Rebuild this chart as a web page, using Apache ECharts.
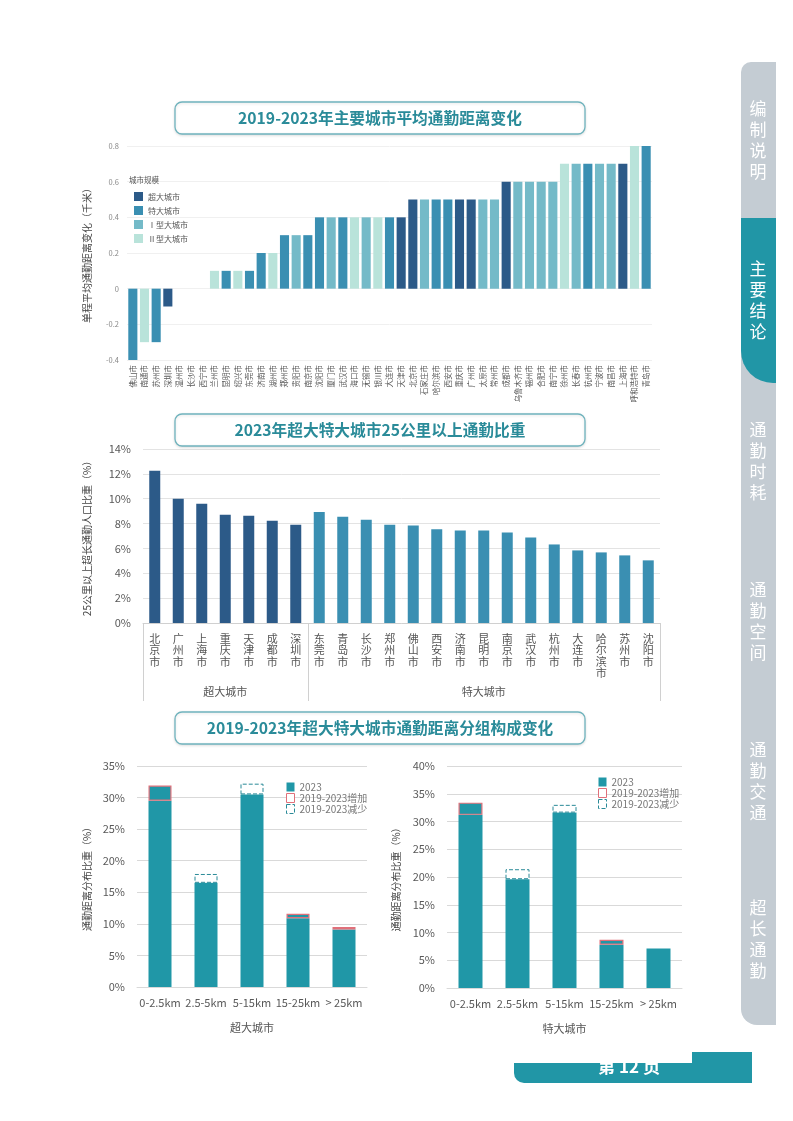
<!DOCTYPE html>
<html><head><meta charset="utf-8">
<script src="https://cdn.jsdelivr.net/npm/echarts@6/dist/echarts.min.js"></script>
<style>html,body{margin:0;padding:0;background:#fff;}#c{width:793px;height:1121px;}</style>
</head><body><div id="c"></div>
<script>
const FONT = '"Noto Sans CJK SC","Noto Sans",sans-serif';

// ---- Chart 1: change of average commute distance (km) ----
const topCities = ['佛山市','南通市','苏州市','深圳市','温州市','长沙市','西宁市','兰州市','昆明市','绍兴市','东莞市','济南市','湖州市','郑州市','贵阳市','南京市','沈阳市','厦门市','武汉市','海口市','无锡市','银川市','大连市','天津市','北京市','石家庄市','哈尔滨市','西安市','重庆市','广州市','太原市','常州市','成都市','乌鲁木齐市','福州市','合肥市','南宁市','徐州市','长春市','杭州市','宁波市','南昌市','上海市','呼和浩特市','青岛市'];
const topValues = [-0.4,-0.3,-0.3,-0.1,0,0,0,0.1,0.1,0.1,0.1,0.2,0.2,0.3,0.3,0.3,0.4,0.4,0.4,0.4,0.4,0.4,0.4,0.4,0.5,0.5,0.5,0.5,0.5,0.5,0.5,0.5,0.6,0.6,0.6,0.6,0.6,0.7,0.7,0.7,0.7,0.7,0.7,0.8,0.8];
const topScales = ['特大城市','Ⅱ型大城市','特大城市','超大城市','Ⅰ型大城市','特大城市','Ⅱ型大城市','Ⅱ型大城市','特大城市','Ⅱ型大城市','特大城市','特大城市','Ⅱ型大城市','特大城市','Ⅰ型大城市','特大城市','特大城市','Ⅰ型大城市','特大城市','Ⅱ型大城市','Ⅰ型大城市','Ⅱ型大城市','特大城市','超大城市','超大城市','Ⅰ型大城市','特大城市','特大城市','超大城市','超大城市','Ⅰ型大城市','Ⅰ型大城市','超大城市','Ⅰ型大城市','Ⅰ型大城市','Ⅰ型大城市','Ⅰ型大城市','Ⅱ型大城市','Ⅰ型大城市','特大城市','Ⅰ型大城市','Ⅰ型大城市','超大城市','Ⅱ型大城市','特大城市'];
const scaleNames = ['超大城市','特大城市','Ⅰ型大城市','Ⅱ型大城市'];
const scaleColors = ['#2c5a88','#3a8fb2','#74bac8','#b9e3da'];
const topTicks = [-0.4,-0.2,0,0.2,0.4,0.6,0.8];

// ---- Chart 2: share of >25km commuters (%) ----
const longCities = ['北京市','广州市','上海市','重庆市','天津市','成都市','深圳市','东莞市','青岛市','长沙市','郑州市','佛山市','西安市','济南市','昆明市','南京市','武汉市','杭州市','大连市','哈尔滨市','苏州市','沈阳市'];
const longValues = [12.25,10.0,9.6,8.7,8.63,8.23,7.9,8.93,8.55,8.31,7.9,7.84,7.55,7.45,7.45,7.28,6.88,6.32,5.84,5.68,5.44,5.04];
const longGroups = ['超大城市','超大城市','超大城市','超大城市','超大城市','超大城市','超大城市','特大城市','特大城市','特大城市','特大城市','特大城市','特大城市','特大城市','特大城市','特大城市','特大城市','特大城市','特大城市','特大城市','特大城市','特大城市'];
const groupColors = {'超大城市':'#2c5a88','特大城市':'#3a8fb2'};

// ---- Chart 3: commute distance composition (%) ----
const distBands = ['0-2.5km','2.5-5km','5-15km','15-25km','> 25km'];
const superShare2019 = [29.5,17.9,32.2,10.9,9.1];
const superShare2023 = [31.9,16.5,30.5,11.6,9.5];
const megaShare2019 = [31.2,21.4,33.0,7.8,7.1];
const megaShare2023 = [33.4,19.6,31.6,8.7,7.1];

const TEAL = '#2097a7';
const RED = '#e0707a';
const DASH = '#2a8a98';

function compSeries(idx, s2019, s2023) {
  const base = s2023.map((v,i)=>Math.min(v, s2019[i]));
  const inc = s2023.map((v,i)=> v > s2019[i] ? +(v - s2019[i]).toFixed(2) : '-');
  const dec = s2023.map((v,i)=> s2019[i] > v ? +(s2019[i] - v).toFixed(2) : '-');
  const w = idx === 2 ? 23 : 24;
  return [
    {name:'2023', type:'bar', xAxisIndex:idx, yAxisIndex:idx, stack:'c'+idx, barWidth:w, data:base, itemStyle:{color:TEAL}},
    {name:'2019-2023增加', type:'bar', xAxisIndex:idx, yAxisIndex:idx, stack:'c'+idx, barWidth:w, data:inc, itemStyle:{color:TEAL, borderColor:RED, borderWidth:1.2}},
    {name:'2019-2023减少', type:'bar', xAxisIndex:idx, yAxisIndex:idx, stack:'c'+idx, barWidth:w, data:dec, itemStyle:{color:'#ffffff', borderColor:DASH, borderWidth:1, borderType:'dashed'}}
  ];
}

const axisLblGray = {fontFamily:FONT, color:'#595959', fontSize:11};
const nameStyle = {fontFamily:FONT, color:'#444', fontSize:10};

const option = {
  animation:false,
  textStyle:{fontFamily:FONT},
  grid:[
    {left:127, top:146, width:525, height:214, containLabel:false},
    {left:143, top:449, width:517, height:174, containLabel:false},
    {left:137, top:766, width:230, height:221, containLabel:false},
    {left:447, top:766, width:235, height:222, containLabel:false}
  ],
  xAxis:[
    {gridIndex:0, type:'category', data:topCities, axisLine:{show:false}, axisTick:{show:false},
     axisLabel:{rotate:90, interval:0, fontSize:7.5, color:'#5a5a5a', margin:5, fontFamily:FONT}},
    {gridIndex:1, type:'category', data:longCities, axisLine:{lineStyle:{color:'#d0d0d0'}}, axisTick:{show:false},
     axisLabel:{interval:0, fontSize:11, lineHeight:11.5, color:'#555', margin:10, fontFamily:FONT, formatter:s=>s.split('').join('\n')}},
    {gridIndex:2, type:'category', data:distBands, axisLine:{lineStyle:{color:'#d9d9d9'}}, axisTick:{show:false},
     axisLabel:Object.assign({interval:0, margin:10}, axisLblGray),
     name:'超大城市', nameLocation:'middle', nameGap:35, nameTextStyle:{fontFamily:FONT, color:'#555', fontSize:11}},
    {gridIndex:3, type:'category', data:distBands, axisLine:{lineStyle:{color:'#d9d9d9'}}, axisTick:{show:false},
     axisLabel:Object.assign({interval:0, margin:10}, axisLblGray),
     name:'特大城市', nameLocation:'middle', nameGap:35, nameTextStyle:{fontFamily:FONT, color:'#555', fontSize:11}}
  ],
  yAxis:[
    {gridIndex:0, type:'value', min:topTicks[0], max:topTicks[topTicks.length-1], interval:0.2,
     axisLabel:{fontSize:7.5, color:'#888', fontFamily:FONT, margin:8, formatter:v=>String(+v.toFixed(1))},
     splitLine:{lineStyle:{color:'#f0f0f0'}}, axisLine:{show:false}, axisTick:{show:false},
     name:'单程平均通勤距离变化（千米）', nameLocation:'middle', nameGap:35, nameTextStyle:nameStyle},
    {gridIndex:1, type:'value', min:0, max:14, interval:2,
     axisLabel:Object.assign({formatter:'{value}%', margin:12}, axisLblGray),
     splitLine:{lineStyle:{color:'#e3e3e3'}}, axisLine:{show:false}, axisTick:{show:false},
     name:'25公里以上超长通勤人口比重（%）', nameLocation:'middle', nameGap:51, nameTextStyle:nameStyle},
    {gridIndex:2, type:'value', min:0, max:35, interval:5,
     axisLabel:Object.assign({formatter:'{value}%', margin:12}, axisLblGray),
     splitLine:{lineStyle:{color:'#d9d9d9'}}, axisLine:{show:false}, axisTick:{show:false},
     name:'通勤距离分布比重（%）', nameLocation:'middle', nameGap:45, nameTextStyle:nameStyle},
    {gridIndex:3, type:'value', min:0, max:40, interval:5,
     axisLabel:Object.assign({formatter:'{value}%', margin:12}, axisLblGray),
     splitLine:{lineStyle:{color:'#d9d9d9'}}, axisLine:{show:false}, axisTick:{show:false},
     name:'通勤距离分布比重（%）', nameLocation:'middle', nameGap:46, nameTextStyle:nameStyle}
  ],
  legend:[
    {left:129, top:187, orient:'vertical', icon:'rect', itemWidth:9, itemHeight:9, itemGap:5, selectedMode:false,
     textStyle:{fontSize:8, color:'#555', fontFamily:FONT}, data:scaleNames},
    {left:281, top:777, orient:'vertical', itemWidth:8, itemHeight:9, itemGap:1, selectedMode:false,
     textStyle:{fontSize:10, color:'#777', fontFamily:FONT},
     data:[{name:'2023', icon:'rect'},
           {name:'2019-2023增加', icon:'rect', itemStyle:{color:'#fff', borderColor:RED, borderWidth:1}},
           {name:'2019-2023减少', icon:'rect', itemStyle:{color:'#fff', borderColor:DASH, borderWidth:1, borderType:'dashed'}}]},
    {left:593, top:772, orient:'vertical', itemWidth:8, itemHeight:9, itemGap:1, selectedMode:false,
     textStyle:{fontSize:10, color:'#777', fontFamily:FONT},
     data:[{name:'2023', icon:'rect'},
           {name:'2019-2023增加', icon:'rect', itemStyle:{color:'#fff', borderColor:RED, borderWidth:1}},
           {name:'2019-2023减少', icon:'rect', itemStyle:{color:'#fff', borderColor:DASH, borderWidth:1, borderType:'dashed'}}]}
  ],
  series:[].concat(
    scaleNames.map((nm,k)=>({
      name:nm, type:'bar', xAxisIndex:0, yAxisIndex:0, stack:'top', barWidth:'78%',
      itemStyle:{color:scaleColors[k]},
      data:topValues.map((v,i)=> topScales[i]===nm ? v : '-')
    })),
    [{name:'25公里以上', type:'bar', xAxisIndex:1, yAxisIndex:1, barWidth:11,
      data:longValues.map((v,i)=>({value:v, itemStyle:{color:groupColors[longGroups[i]]}}))}],
    compSeries(2, superShare2019, superShare2023),
    compSeries(3, megaShare2019, megaShare2023)
  )
};

const chart = echarts.init(document.getElementById('c'), null, {renderer:'canvas', width:793, height:1121});
chart.setOption(option);

// ----- decorations -----
const g = [];
// side tabs
g.push({type:'rect', shape:{x:741, y:62, width:35, height:963, r:[10,0,0,16]}, style:{fill:'#c4ccd3'}, z:0});
g.push({type:'rect', shape:{x:741, y:218, width:35, height:165, r:[0,0,0,32]}, style:{fill:'#2196a6'}, z:1});
const tabs = [['编制说明',140],['主要结论',300],['通勤时耗',461],['通勤空间',621],['通勤交通',781],['超长通勤',939]];
tabs.forEach(([t,y])=>{
  g.push({type:'text', x:758, y:y, z:2, style:{text:t.split('').join('\n'), fill:'#ffffff', font:'17px '+FONT, lineHeight:21, align:'center', verticalAlign:'middle'}});
});
// title boxes
const titles = [['2019-2023年主要城市平均通勤距离变化',102],['2023年超大特大城市25公里以上通勤比重',414],['2019-2023年超大特大城市通勤距离分组构成变化',712]];
titles.forEach(([t,y])=>{
  g.push({type:'rect', shape:{x:175, y:y, width:410, height:32, r:7}, style:{fill:'#fff', stroke:'#6fb3bd', lineWidth:1.3, shadowBlur:3, shadowColor:'rgba(0,0,0,0.12)', shadowOffsetY:1}, z:1});
  g.push({type:'text', x:380, y:y+16.5, z:2, style:{text:t, fill:'#2a8b99', font:'bold 15.7px '+FONT, align:'center', verticalAlign:'middle'}});
});
// legend title top chart
g.push({type:'text', x:129, y:180, style:{text:'城市规模', fill:'#555', font:'7.5px '+FONT, align:'left', verticalAlign:'middle'}});
// footer
g.push({type:'rect', shape:{x:514, y:1063, width:238, height:20, r:[0,0,0,10]}, style:{fill:'#2196a6'}, z:1});
g.push({type:'rect', shape:{x:692, y:1052, width:60, height:12}, style:{fill:'#2196a6'}, z:1});
g.push({type:'text', x:629, y:1067, z:2, style:{text:'第 12 页', fill:'#ffffff', font:'bold 17px '+FONT, align:'center', verticalAlign:'middle'}});

// group separators & labels for chart 2
const p = i => chart.convertToPixel({gridIndex:1}, [i, 0]);
const y0 = p(0)[1];
const nSuper = longGroups.filter(x=>x==='超大城市').length;
const step = p(1)[0] - p(0)[0];
const leftX = p(0)[0] - step/2, midX = (p(nSuper-1)[0] + p(nSuper)[0])/2, rightX = p(longCities.length-1)[0] + step/2;
[leftX, midX, rightX].forEach(x=>{
  g.push({type:'line', shape:{x1:Math.round(x)+0.5, y1:y0, x2:Math.round(x)+0.5, y2:701}, style:{stroke:'#d0d0d0', lineWidth:1}});
});
g.push({type:'text', x:(leftX+midX)/2, y:692, style:{text:'超大城市', fill:'#555', font:'11px '+FONT, align:'center', verticalAlign:'middle'}});
g.push({type:'text', x:(midX+rightX)/2, y:692, style:{text:'特大城市', fill:'#555', font:'11px '+FONT, align:'center', verticalAlign:'middle'}});

chart.setOption({graphic:{elements:g}});
</script>
</body></html>
